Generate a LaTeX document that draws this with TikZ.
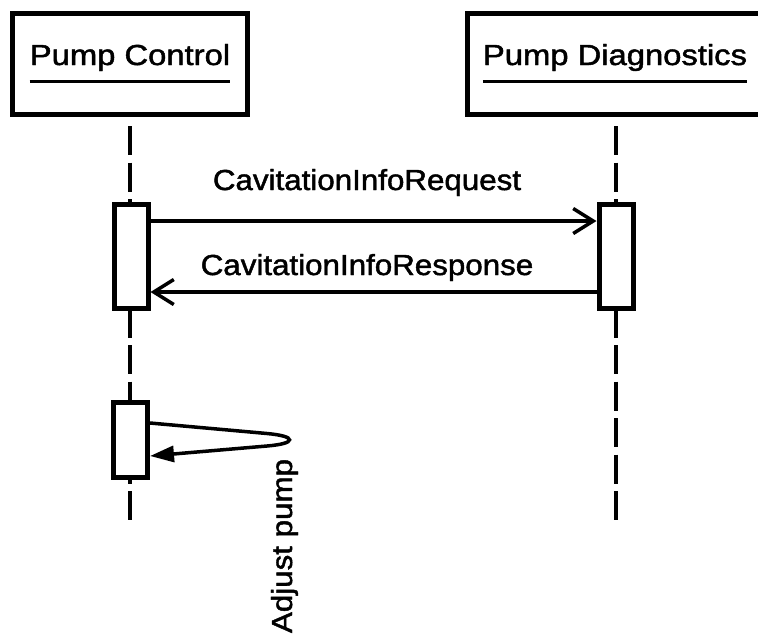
\documentclass[tikz,border=0pt]{standalone}
\usepackage{graphicx}
\usepackage{fontspec}
\setmainfont{Liberation Sans}
\newfontfamily\heavyfont{Liberation Sans}[FakeBold=1.5]
\usetikzlibrary{arrows.meta}
\begin{document}
\begin{tikzpicture}[x=1pt,y=-1pt,
  hdr/.style={draw, line width=5pt, fill=white, inner sep=0pt, minimum width=235pt, minimum height=101pt},
  act/.style={draw, line width=5pt, fill=white, inner sep=0pt, minimum width=34pt},
  lbl/.style={inner sep=0pt, anchor=base, font=\heavyfont\fontsize{29pt}{34pt}\selectfont},
  lifeline/.style={line width=3.5pt, dash pattern=on 29pt off 7.5pt},
  msg/.style={line width=3.5pt, -{Straight Barb[length=20pt,width=25pt]}},
  selfmsg/.style={line width=3.5pt, -{Triangle[length=24pt,width=16pt]}},
  uline/.style={line width=3pt}]
\clip (0,0) rectangle (758,633);
% headers
\node[hdr] (h1) at (130,64) {};
\node[hdr, minimum width=297pt] (h2) at (616,64) {};
\node[lbl] (t1) at (130,65) {\scalebox{1.13}[1]{Pump Control}};
\node[lbl] (t2) at (615,65) {\scalebox{1.13}[1]{Pump Diagnostics}};
\draw[uline] ([yshift=-16pt]t1.base west) -- ([yshift=-16pt]t1.base east);
\draw[uline] ([yshift=-16pt]t2.base west) -- ([yshift=-16pt]t2.base east);
% lifelines
\coordinate (e1) at (130,520);
\coordinate (e2) at (616,520);
\draw[lifeline] ([yshift=-9pt]h1.south) -- (e1);
\draw[lifeline] ([yshift=-9pt]h2.south) -- (e2);
% activations
\node[act, minimum height=104pt] (a1) at (131,256) {};
\node[act, minimum height=104pt] (a2) at (616,256) {};
\node[act, minimum height=74.5pt] (a3) at (130.5,440) {};
% messages
\draw[msg] ([yshift=35pt]a1.east) -- ([yshift=35pt]a2.west);
\draw[msg] ([yshift=-36pt]a2.west) -- ([yshift=-36pt]a1.east);
\draw[selfmsg] ([yshift=17pt]a3.east) -- (267,433.5) .. controls (297,436.2) and (297,443.5) .. (267,446) -- ([yshift=-16pt]a3.east);
% labels
\node[lbl] (m1) at (367,190) {\scalebox{1.08}[1]{CavitationInfoRequest}};
\node[lbl] (m2) at (367,275) {\scalebox{1.08}[1]{CavitationInfoResponse}};
\node[lbl, rotate=90] (m3) at (292,546) {\scalebox{1.08}[1]{Adjust pump}};
\end{tikzpicture}
\end{document}
